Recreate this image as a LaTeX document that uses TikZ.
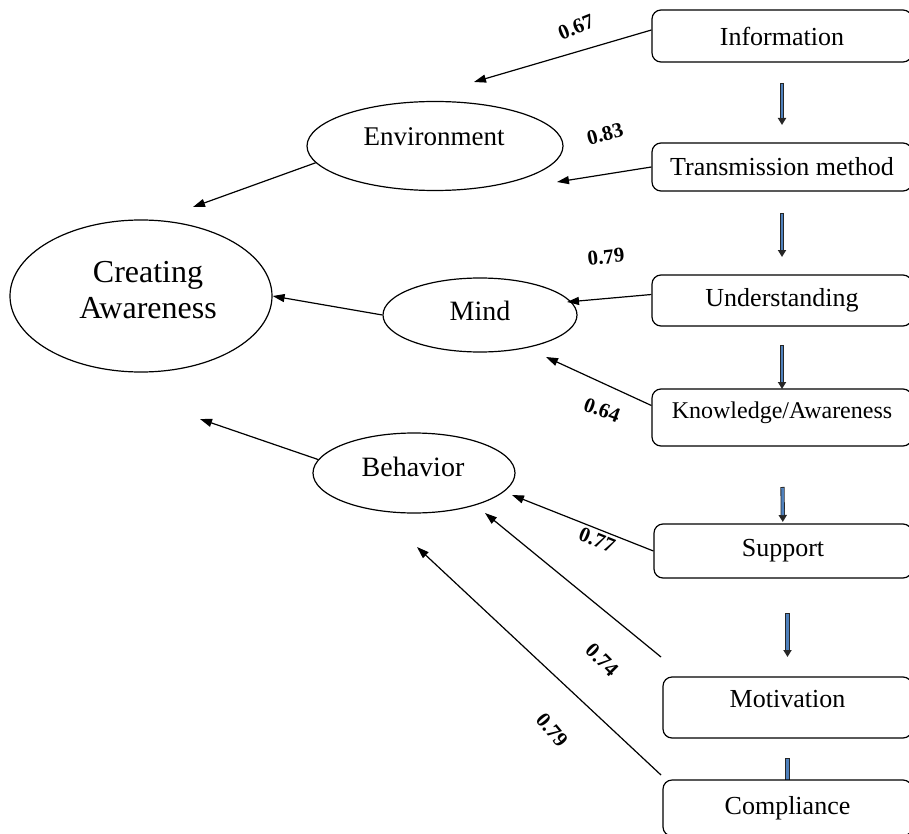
\documentclass[tikz,border=0pt]{standalone}
\usepackage{fontspec}
\setmainfont{Liberation Serif}
\usetikzlibrary{arrows.meta,shapes.geometric,calc}
\definecolor{arrblue}{RGB}{79,129,189}
\begin{document}
\begin{tikzpicture}[x=1pt,y=-1pt,
  box/.style={draw, fill=white, rounded corners=9pt, line width=1.2pt, inner sep=0pt, font=\fontsize{26}{30}\selectfont},
  ell/.style={draw, ellipse, line width=1.2pt, inner sep=0pt},
  etext/.style={font=\fontsize{27}{30}\selectfont, inner sep=0pt},
  conn/.style={-{Triangle[length=12pt,width=8pt]}, line width=1.2pt},
  lab/.style={font=\bfseries\fontsize{21}{24}\selectfont, inner sep=0pt},
  vout/.style={line width=4.2pt, black!85, -{Triangle[length=7pt,width=8pt]}},
  vin/.style={line width=2.6pt, arrblue}
]
\useasboundingbox (0,0) rectangle (909,834);

\path
  (782,36)    coordinate (pinfo)
  (782,167)   coordinate (ptrans)
  (782,300.5) coordinate (punder)
  (782,417.5) coordinate (pknow)
  (783,551)   coordinate (psup)
  (787.5,707.5) coordinate (pmot)
  (787.5,808) coordinate (pcomp);

% vertical arrows between boxes (drawn first, boxes cover their ends)
\path (pinfo) ++(0,26) coordinate (infoS);
\foreach \a/\b/\s/\t in {pinfo/ptrans/47/42, ptrans/punder/46/43.5, punder/pknow/44.5/28.5, pknow/psup/69.5/29} {
  \draw[vout, shorten <=\s pt, shorten >=\t pt] (\a) -- (\b);
  \draw[vin, shorten <=\s pt+1pt, shorten >=\t pt+7pt] (\a) -- (\b);
}
\draw[vout, shorten <=62pt, shorten >=50.5pt] (pmot |- psup) -- (pmot);
\draw[vin, shorten <=63pt, shorten >=57.5pt] (pmot |- psup) -- (pmot);
\draw[line width=4.2pt, black!85, shorten <=50.5pt, shorten >=26pt] (pmot) -- (pcomp);
\draw[vin, shorten <=51.5pt, shorten >=26pt] (pmot) -- (pcomp);

% boxes
\node[box, minimum width=260pt, minimum height=52pt] (info) at (pinfo) {Information};
\node[box, minimum width=260pt, minimum height=48pt] (trans) at (ptrans) {Transmission method};
\node[box, minimum width=260pt, minimum height=51pt] (under) at (punder) {Understanding};
\node[box, minimum width=260pt, minimum height=57pt, text depth=14pt, font=\fontsize{24}{28}\selectfont] (know) at (pknow) {Knowledge/Awareness};
\node[box, minimum width=258pt, minimum height=54pt] (sup) at (psup) {Support};
\node[box, minimum width=249pt, minimum height=61pt, text depth=18pt] (mot) at (pmot) {Motivation};
\node[box, minimum width=249pt, minimum height=56pt] (comp) at (pcomp) {Compliance};

% ellipses
\node[ell, minimum width=262pt, minimum height=152pt] (ca) at (141,296) {};
\node[etext, font=\fontsize{32}{36}\selectfont, align=center] (catext) at (148,290) {Creating\\Awareness};
\node[ell, minimum width=256pt, minimum height=89pt] (env) at (435,146) {};
\node[etext] (envtext) at (434,137) {Environment};
\node[ell, minimum width=194pt, minimum height=74pt] (mind) at (480,315) {};
\node[etext, font=\fontsize{28}{30}\selectfont] (mindtext) at (480,311) {Mind};
\node[ell, minimum width=202pt, minimum height=80pt] (beh) at (414,473) {};
\node[etext, font=\fontsize{28}{30}\selectfont] (behtext) at (413,467) {Behavior};

% free ends
\coordinate (e1) at (474,82);
\coordinate (e2) at (557,182);
\coordinate (e3) at (193,207);
\coordinate (e4) at (567,302);
\coordinate (e5) at (546,357);
\coordinate (e7) at (200,419);
\coordinate (e8) at (512,495);
\coordinate (s9) at (661,657);
\coordinate (e9) at (485,513);
\coordinate (s10) at (661,775);
\coordinate (e10) at (417,547);

% connectors
\draw[conn] ($(info.west)+(0,-6)$) -- (e1);
\draw[conn] (trans.west) -- (e2);
\draw[conn] (env.188) -- (e3);
\draw[conn] ($(under.west)+(0,-6)$) -- (e4);
\draw[conn] ($(know.west)+(0,-12)$) -- (e5);
\draw[conn] (mind.west) -- (ca.east);
\draw[conn] (beh.172) -- (e7);
\draw[conn] (sup.west) -- (e8);
\draw[conn] (s9) -- (e9);
\draw[conn] (s10) -- (e10);

% labels
\node[lab, rotate=22] (l1) at (576,27) {0.67};
\node[lab, rotate=15] (l2) at (605,134) {0.83};
\node[lab, rotate=6] (l3) at (606,257) {0.79};
\node[lab, rotate=-20] (l4) at (602,410) {0.64};
\node[lab, rotate=-22] (l5) at (597,540) {0.77};
\node[lab, rotate=-45] (l6) at (602,660) {0.74};
\node[lab, rotate=-50] (l7) at (552,730) {0.79};
\end{tikzpicture}
\end{document}
